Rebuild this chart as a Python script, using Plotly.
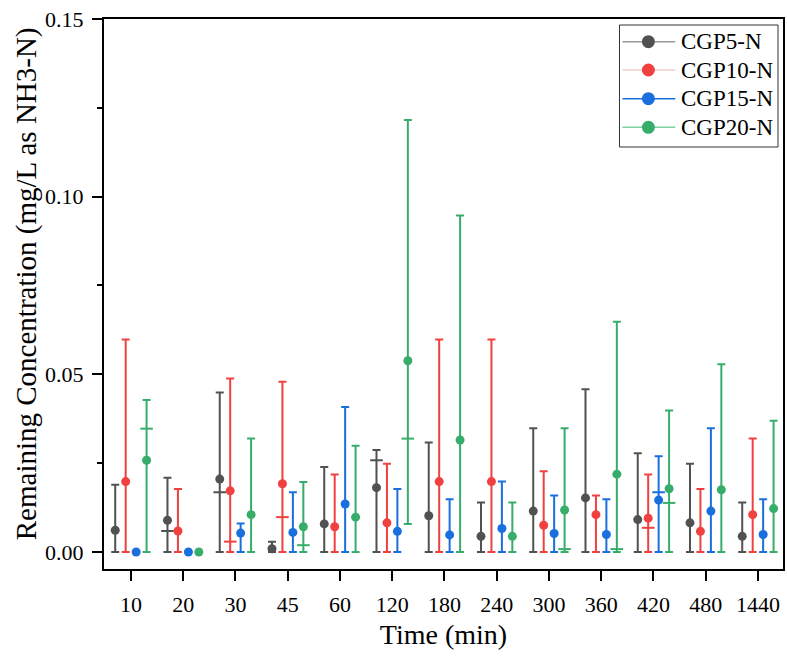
import plotly.graph_objects as go

# Sampling times (min) shown as categories on the x axis
times = ["10", "20", "30", "45", "60", "120", "180", "240", "300", "360", "420", "480", "1440"]

series_names = ["CGP5-N", "CGP10-N", "CGP15-N", "CGP20-N"]
series_colors = ["#515151", "#F14040", "#1A6FDF", "#37AD6B"]
legend_line_colors = ["#9a9a9a", "#f3cfcf", "#1A6FDF", "#7fcfa0"]

# Mean remaining concentration (mg/L as NH3-N)
cgp5_mean = [0.0061, 0.0089, 0.0205, 0.0009, 0.0079, 0.0181, 0.0102, 0.0044, 0.0115, 0.0152, 0.0091, 0.0082, 0.0044]
cgp10_mean = [0.0198, 0.0059, 0.0172, 0.0192, 0.0071, 0.0082, 0.0198, 0.0198, 0.0075, 0.0105, 0.0095, 0.0058, 0.0105]
cgp15_mean = [0.0, 0.0, 0.0053, 0.0055, 0.0135, 0.0058, 0.0048, 0.0066, 0.0052, 0.0049, 0.0146, 0.0115, 0.0049]
cgp20_mean = [0.0258, 0.0, 0.0105, 0.0071, 0.0098, 0.0538, 0.0315, 0.0044, 0.0118, 0.0219, 0.0178, 0.0175, 0.0122]

# Upper ends of the error bars
cgp5_high = [0.0189, 0.0209, 0.0449, 0.0029, 0.0239, 0.0287, 0.0308, 0.0139, 0.0348, 0.0458, 0.0278, 0.0248, 0.0139]
cgp10_high = [0.0598, 0.0177, 0.0488, 0.0479, 0.0218, 0.0248, 0.0598, 0.0598, 0.0227, 0.0159, 0.0218, 0.0177, 0.0319]
cgp15_high = [None, None, 0.0080, 0.0168, 0.0408, 0.0177, 0.0148, 0.0198, 0.0159, 0.0148, 0.0269, 0.0348, 0.0148]
cgp20_high = [0.0428, None, 0.0319, 0.0197, 0.0299, 0.1216, 0.0947, 0.0139, 0.0348, 0.0648, 0.0398, 0.0528, 0.0369]

# Lower ends of the error bars
cgp5_low = [0.0] * 13
cgp10_low = [0.0] * 13
cgp15_low = [None, None] + [0.0] * 11
cgp20_low = [0.0, None, 0.0, 0.0, 0.0, 0.0079, 0.0, 0.0, 0.0, 0.0, 0.0, 0.0, 0.0]

# Secondary cross-bars drawn inside some error bars
cgp5_inner = [None, 0.0059, 0.0168, None, None, 0.0258, None, None, None, None, None, None, None]
cgp10_inner = [None, None, 0.0029, 0.0098, None, None, None, None, None, None, 0.0068, None, None]
cgp15_inner = [None, None, None, None, None, None, None, None, None, None, 0.0168, None, None]
cgp20_inner = [0.0347, None, None, 0.0019, None, 0.0319, None, None, 0.0008, 0.0008, 0.0138, None, None]

means = [cgp5_mean, cgp10_mean, cgp15_mean, cgp20_mean]
highs = [cgp5_high, cgp10_high, cgp15_high, cgp20_high]
lows = [cgp5_low, cgp10_low, cgp15_low, cgp20_low]
inners = [cgp5_inner, cgp10_inner, cgp15_inner, cgp20_inner]
offsets = [-0.3, -0.1, 0.1, 0.3]

FONT = "Liberation Serif, Times New Roman, serif"

# Figure and plot-area geometry (pixels)
W, H = 787, 656
ML, MR, MT, MB = 104, 2, 19, 87
PW, PH = W - ML - MR, H - MT - MB


def px_x(px):
    return (px - ML) / PW


def px_y(py):
    return (H - MB - py) / PH


fig = go.Figure()

for k in range(4):
    xs = [i + offsets[k] for i in range(len(times))]
    plus = [None if h is None else h - m for h, m in zip(highs[k], means[k])]
    minus = [None if lo is None else m - lo for lo, m in zip(lows[k], means[k])]
    fig.add_trace(go.Scatter(
        x=xs, y=means[k], mode="markers", showlegend=False, name=series_names[k],
        marker=dict(color=series_colors[k], size=9, symbol="circle"),
        error_y=dict(type="data", symmetric=False, array=plus, arrayminus=minus,
                     color=series_colors[k], thickness=2, width=4),
        hoverinfo="skip",
    ))
    ix = [x for x, v in zip(xs, inners[k]) if v is not None]
    iv = [v for v in inners[k] if v is not None]
    if iv:
        fig.add_trace(go.Scatter(
            x=ix, y=iv, mode="markers", showlegend=False,
            marker=dict(symbol="line-ew", size=9, line=dict(color=series_colors[k], width=2)),
            hoverinfo="skip",
        ))

# Boxed legend: line through a filled circle, then the series name
shapes = [dict(type="rect", xref="paper", yref="paper",
               x0=px_x(621), x1=px_x(780), y0=px_y(147), y1=px_y(25),
               line=dict(color="#333333", width=1), fillcolor="white", layer="above")]
annotations = []
legend_rows = [41.7, 70.0, 98.7, 127.3]
for k in range(4):
    yc = px_y(legend_rows[k])
    shapes.append(dict(type="line", xref="paper", yref="paper",
                       x0=px_x(624), x1=px_x(677), y0=yc, y1=yc,
                       line=dict(color=legend_line_colors[k], width=1.5), layer="above"))
    shapes.append(dict(type="circle", xref="paper", yref="paper",
                       xsizemode="pixel", ysizemode="pixel",
                       xanchor=px_x(650), yanchor=yc,
                       x0=-6.5, x1=6.5, y0=-6.5, y1=6.5,
                       line=dict(width=0), fillcolor=series_colors[k], layer="above"))
    annotations.append(dict(xref="paper", yref="paper", x=px_x(681), y=yc,
                            xanchor="left", yanchor="middle", showarrow=False,
                            text=series_names[k], font=dict(family=FONT, size=23, color="black")))

# Vertical axis title
annotations.append(dict(xref="paper", yref="paper", x=px_x(26), y=px_y(284),
                        xanchor="center", yanchor="middle", showarrow=False, textangle=-90,
                        text="Remaining Concentration (mg/L as NH3-N)",
                        font=dict(family=FONT, size=29, color="black")))

fig.update_layout(
    width=W, height=H,
    margin=dict(l=ML, r=MR, t=MT, b=MB),
    paper_bgcolor="white", plot_bgcolor="white",
    font=dict(family=FONT, size=22, color="black"),
    showlegend=False,
    shapes=shapes, annotations=annotations,
    xaxis=dict(
        range=[-0.515, 12.48], tickmode="array",
        tickvals=list(range(len(times))), ticktext=times,
        showgrid=False, zeroline=False, showline=True, mirror=True,
        linecolor="black", linewidth=2, ticks="outside", ticklen=10, tickwidth=2,
        tickcolor="black", tickfont=dict(size=22), ticklabelstandoff=5,
        title=dict(text="Time (min)", font=dict(size=28), standoff=8),
    ),
    yaxis=dict(
        range=[-0.0048, 0.15], tickvals=[0, 0.05, 0.10, 0.15], tickformat=".2f",
        showgrid=False, zeroline=False, showline=True, mirror=True,
        linecolor="black", linewidth=2, ticks="outside", ticklen=10, tickwidth=2,
        tickcolor="black", tickfont=dict(size=22), ticklabelstandoff=4,
        minor=dict(tickvals=[0.025, 0.075, 0.125], ticks="outside", ticklen=5,
                   tickwidth=2, tickcolor="black"),
    ),
)

fig.write_html("out.html")
